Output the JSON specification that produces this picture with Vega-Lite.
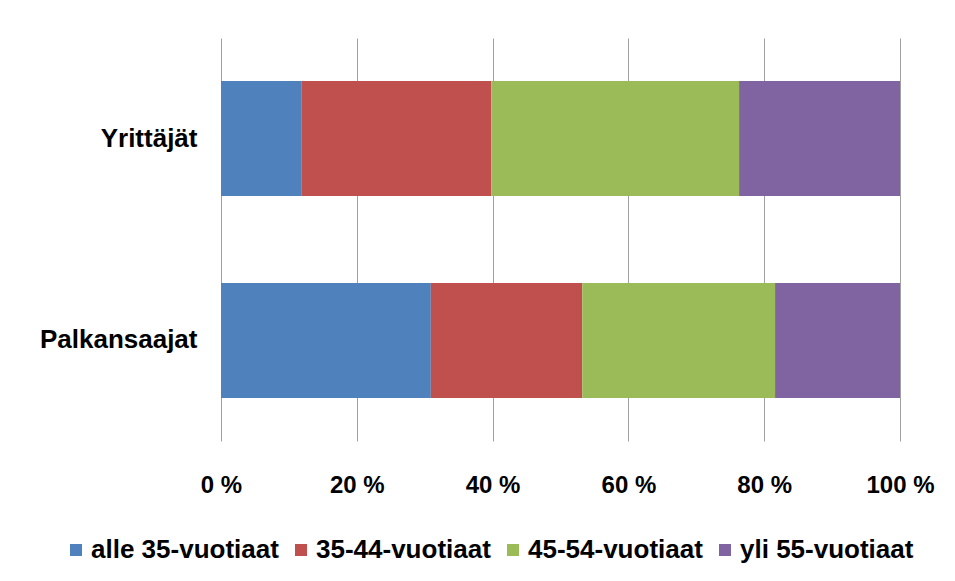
{
  "$schema": "https://vega.github.io/schema/vega-lite/v6.json",
  "autosize": {"type": "none"},
  "padding": {"left": 221, "top": 38, "right": 55, "bottom": 140},
  "width": 679,
  "height": 403,
  "background": "white",
  "config": {
    "view": {"stroke": null},
    "font": "Liberation Sans"
  },
  "data": {
    "values": [
      {"ryhma": "Yrittäjät", "ika": "alle 35-vuotiaat", "jarj": 1, "osuus": 11.9},
      {"ryhma": "Yrittäjät", "ika": "35-44-vuotiaat", "jarj": 2, "osuus": 27.9},
      {"ryhma": "Yrittäjät", "ika": "45-54-vuotiaat", "jarj": 3, "osuus": 36.5},
      {"ryhma": "Yrittäjät", "ika": "yli 55-vuotiaat", "jarj": 4, "osuus": 23.7},
      {"ryhma": "Palkansaajat", "ika": "alle 35-vuotiaat", "jarj": 1, "osuus": 30.9},
      {"ryhma": "Palkansaajat", "ika": "35-44-vuotiaat", "jarj": 2, "osuus": 22.3},
      {"ryhma": "Palkansaajat", "ika": "45-54-vuotiaat", "jarj": 3, "osuus": 28.4},
      {"ryhma": "Palkansaajat", "ika": "yli 55-vuotiaat", "jarj": 4, "osuus": 18.4}
    ]
  },
  "mark": {"type": "bar"},
  "encoding": {
    "y": {
      "field": "ryhma",
      "type": "nominal",
      "sort": ["Yrittäjät", "Palkansaajat"],
      "scale": {"paddingInner": 0.43, "paddingOuter": 0.213},
      "axis": {
        "title": null,
        "domain": false,
        "ticks": false,
        "labelPadding": 24,
        "labelFontSize": 26,
        "labelFontWeight": "bold",
        "labelColor": "#000000",
        "labelFont": "Liberation Sans"
      }
    },
    "x": {
      "field": "osuus",
      "type": "quantitative",
      "stack": "zero",
      "scale": {"domain": [0, 100], "nice": false},
      "axis": {
        "title": null,
        "values": [0, 20, 40, 60, 80, 100],
        "labelExpr": "datum.value + ' %'",
        "labelFlush": false,
        "labelOverlap": false,
        "domain": false,
        "ticks": false,
        "grid": true,
        "gridColor": "#A0A0A0",
        "gridWidth": 1,
        "labelPadding": 32,
        "labelFontSize": 24,
        "labelFontWeight": "bold",
        "labelColor": "#000000",
        "labelFont": "Liberation Sans",
        "zindex": 0
      }
    },
    "color": {
      "field": "ika",
      "type": "nominal",
      "scale": {
        "domain": ["alle 35-vuotiaat", "35-44-vuotiaat", "45-54-vuotiaat", "yli 55-vuotiaat"],
        "range": ["#4F81BD", "#C0504D", "#9BBB59", "#8064A2"]
      },
      "legend": {
        "title": null,
        "orient": "none",
        "direction": "horizontal",
        "legendX": -158,
        "legendY": 499,
        "padding": 0,
        "symbolType": "square",
        "symbolSize": 144,
        "symbolStrokeWidth": 0,
        "labelFontSize": 26,
        "labelFontWeight": "bold",
        "labelColor": "#000000",
        "labelFont": "Liberation Sans",
        "labelOffset": 2,
        "columnPadding": 9,
        "labelLimit": 400
      }
    },
    "order": {"field": "jarj", "type": "quantitative"}
  }
}
